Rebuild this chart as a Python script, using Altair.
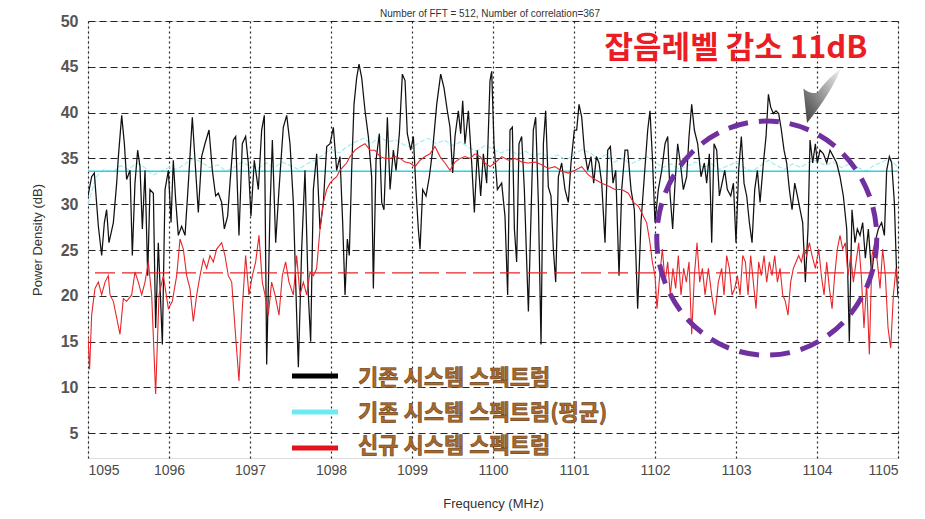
import altair as alt
import pandas as pd

# ---------------- data ----------------
black_x = [1095.000, 1095.045, 1095.078, 1095.128, 1095.169, 1095.202, 1095.230, 1095.259, 1095.313, 1095.354,
           1095.375, 1095.416, 1095.449, 1095.477, 1095.519, 1095.547, 1095.580, 1095.613, 1095.642, 1095.671,
           1095.704, 1095.737, 1095.765, 1095.807, 1095.835, 1095.868, 1095.918, 1095.951, 1095.992, 1096.025,
           1096.053, 1096.082, 1096.115, 1096.156, 1096.198, 1096.239, 1096.288, 1096.321, 1096.362, 1096.403,
           1096.444, 1096.494, 1096.535, 1096.576, 1096.609, 1096.650, 1096.683, 1096.724, 1096.753, 1096.794,
           1096.823, 1096.864, 1096.905, 1096.946, 1096.979, 1097.012, 1097.053, 1097.103, 1097.144, 1097.177,
           1097.206, 1097.247, 1097.276, 1097.317, 1097.358, 1097.411, 1097.453, 1097.494, 1097.535,
           1097.576, 1097.597, 1097.638, 1097.679, 1097.720, 1097.749, 1097.782, 1097.823, 1097.864, 1097.906,
           1097.947, 1097.988, 1098.029, 1098.070, 1098.111, 1098.144, 1098.173, 1098.202, 1098.226, 1098.255,
           1098.284, 1098.317, 1098.346, 1098.379, 1098.420, 1098.461, 1098.502, 1098.523, 1098.556, 1098.597,
           1098.626, 1098.654, 1098.696, 1098.729, 1098.770, 1098.803, 1098.844, 1098.881, 1098.914, 1098.942,
           1098.984, 1099.017, 1099.049, 1099.078, 1099.099, 1099.132, 1099.173, 1099.214, 1099.255, 1099.305,
           1099.354, 1099.395, 1099.436, 1099.469, 1099.502, 1099.531, 1099.572, 1099.601, 1099.626, 1099.654,
           1099.696, 1099.737, 1099.770, 1099.807, 1099.848, 1099.881, 1099.922, 1099.963, 1099.984, 1100.012,
           1100.054, 1100.107, 1100.148, 1100.181, 1100.210, 1100.239, 1100.264, 1100.292, 1100.321, 1100.354,
           1100.387, 1100.416, 1100.437, 1100.469, 1100.498, 1100.527, 1100.560, 1100.593, 1100.622, 1100.650,
           1100.683, 1100.716, 1100.745, 1100.774, 1100.807, 1100.848, 1100.889, 1100.930, 1100.963, 1101.004,
           1101.033, 1101.062, 1101.095, 1101.128, 1101.169, 1101.210, 1101.243, 1101.276, 1101.309, 1101.342,
           1101.383, 1101.416, 1101.449, 1101.482, 1101.515, 1101.556, 1101.589, 1101.630, 1101.663, 1101.704,
           1101.745, 1101.786, 1101.827, 1101.868, 1101.910, 1101.938, 1101.967, 1102.000, 1102.041, 1102.083,
           1102.124, 1102.157, 1102.185, 1102.218, 1102.247, 1102.280, 1102.313, 1102.350, 1102.391, 1102.420,
           1102.453, 1102.486, 1102.527, 1102.568, 1102.609, 1102.638, 1102.671, 1102.700, 1102.729, 1102.762,
           1102.795, 1102.828, 1102.861, 1102.893, 1102.935, 1102.968, 1103.000, 1103.033, 1103.066, 1103.099,
           1103.132, 1103.165, 1103.198, 1103.231, 1103.264, 1103.297, 1103.338, 1103.371, 1103.400, 1103.428,
           1103.461, 1103.494, 1103.527, 1103.560, 1103.593, 1103.626, 1103.659, 1103.692, 1103.725, 1103.758,
           1103.791, 1103.823, 1103.856, 1103.889, 1103.914, 1103.947, 1103.980, 1104.004, 1104.037, 1104.079,
           1104.120, 1104.161, 1104.202, 1104.243, 1104.284, 1104.325, 1104.367, 1104.399, 1104.432, 1104.469,
           1104.498, 1104.531, 1104.564, 1104.597, 1104.634, 1104.675, 1104.716, 1104.757, 1104.798, 1104.832,
           1104.860, 1104.893, 1104.922, 1104.955, 1104.984, 1105.000]
black_y = [30.9, 33.0, 33.4, 27.6, 24.4, 28.0, 29.4, 25.8, 28.0, 32.3,
           35.2, 39.7, 36.6, 32.7, 33.7, 24.4, 32.3, 35.9, 34.1, 27.3,
           33.7, 22.2, 31.6, 31.2, 16.5, 25.8, 14.7, 31.6, 33.7, 28.0,
           34.8, 30.5, 26.6, 27.6, 26.6, 32.3, 39.5, 34.8, 29.1, 35.2,
           36.6, 38.1, 33.7, 30.9, 31.2, 30.2, 27.3, 28.7, 32.3, 37.0,
           37.4, 26.6, 36.6, 37.4, 34.5, 28.7, 34.8, 31.6, 38.1, 39.7,
           12.5, 29.4, 37.0, 25.8, 31.6, 38.4, 39.7, 36.6, 30.2,
           17.9, 12.2, 25.1, 33.7, 20.1, 15.0, 31.6, 35.5, 27.3, 30.2,
           36.3, 36.6, 38.4, 33.7, 35.2, 28.0, 20.1, 26.2, 24.4, 33.7,
           40.9, 43.8, 45.3, 43.8, 40.2, 37.4, 33.0, 20.8, 34.8, 37.7,
           30.2, 29.4, 39.5, 31.6, 35.9, 33.7, 37.7, 44.2, 43.5, 37.7,
           35.9, 37.4, 31.6, 27.3, 25.1, 31.6, 30.9, 33.0, 35.9, 40.9,
           44.2, 42.7, 40.2, 38.4, 33.4, 37.4, 40.2, 37.7, 41.3, 36.6,
           40.2, 34.5, 29.1, 35.9, 30.9, 35.5, 32.3, 43.5, 44.5, 36.6,
           31.6, 32.3, 28.7, 20.1, 38.1, 38.4, 27.3, 23.7, 36.6, 37.4,
           31.6, 23.7, 18.3, 28.7, 38.1, 39.5, 30.2, 14.7, 36.6, 40.2,
           31.9, 30.9, 25.1, 21.5, 33.0, 34.5, 31.6, 30.2, 34.5, 38.1,
           38.1, 40.9, 39.5, 35.9, 33.7, 35.2, 32.3, 35.2, 34.5, 32.3,
           25.8, 35.9, 36.3, 32.3, 33.7, 22.2, 31.6, 35.9, 35.9, 31.6,
           29.4, 18.6, 28.0, 33.0, 38.1, 40.2, 35.2, 28.0, 31.6, 33.7,
           36.6, 37.4, 31.2, 27.3, 32.3, 36.6, 34.5, 31.6, 33.0, 37.4,
           40.9, 38.1, 36.6, 33.0, 34.5, 32.3, 35.5, 25.8, 36.6, 35.9,
           30.9, 32.3, 33.7, 31.6, 30.9, 32.3, 25.8, 33.7, 37.4, 32.3,
           30.9, 28.0, 25.8, 31.6, 33.7, 30.2, 34.5, 37.4, 42.0, 40.6,
           39.9, 40.2, 39.9, 38.1, 35.9, 34.5, 31.6, 29.4, 32.3, 30.9,
           29.4, 28.0, 21.5, 27.3, 37.0, 34.5, 36.6, 34.5, 35.9, 35.5,
           34.5, 35.9, 35.2, 34.5, 33.0, 30.9, 27.3, 15.0, 29.4, 25.8,
           27.3, 26.6, 28.0, 24.1, 27.3, 22.2, 25.8, 27.3, 28.0, 26.6,
           33.7, 35.2, 34.5, 30.2, 22.2, 20.0]

red_x = [1095.000, 1095.020, 1095.045, 1095.086, 1095.128, 1095.169, 1095.210, 1095.251, 1095.272, 1095.313,
         1095.354, 1095.395, 1095.436, 1095.477, 1095.539, 1095.580, 1095.621, 1095.663, 1095.704, 1095.745,
         1095.786, 1095.835, 1095.877, 1095.930, 1095.992, 1096.041, 1096.095, 1096.136, 1096.177, 1096.218,
         1096.259, 1096.300, 1096.342, 1096.383, 1096.424, 1096.465, 1096.506, 1096.547, 1096.588, 1096.650,
         1096.691, 1096.732, 1096.774, 1096.815, 1096.864, 1096.905, 1096.946, 1096.987, 1097.029, 1097.070,
         1097.111, 1097.152, 1097.185, 1097.226, 1097.267, 1097.309, 1097.358, 1097.399, 1097.440, 1097.481,
         1097.535, 1097.576, 1097.617, 1097.659, 1097.700, 1097.741, 1097.782, 1097.823, 1097.864, 1097.906,
         1097.947, 1097.988, 1098.029, 1098.070, 1098.111, 1098.152, 1098.193, 1098.235, 1098.296, 1098.358,
         1098.420, 1098.482, 1098.543, 1098.605, 1098.667, 1098.729, 1098.790, 1098.852, 1098.914, 1098.975,
         1099.037, 1099.099, 1099.161, 1099.222, 1099.284, 1099.346, 1099.407, 1099.469, 1099.531, 1099.593,
         1099.654, 1099.716, 1099.778, 1099.840, 1099.901, 1099.963, 1100.025, 1100.107, 1100.190, 1100.272,
         1100.354, 1100.437, 1100.519, 1100.601, 1100.683, 1100.766, 1100.848, 1100.930, 1101.013, 1101.095,
         1101.177, 1101.260, 1101.342, 1101.424, 1101.506, 1101.589, 1101.671, 1101.733, 1101.794, 1101.856,
         1101.897, 1101.938, 1101.967, 1102.000, 1102.025, 1102.058, 1102.091, 1102.124, 1102.157, 1102.189,
         1102.222, 1102.255, 1102.288, 1102.321, 1102.354, 1102.387, 1102.420, 1102.453, 1102.486, 1102.519,
         1102.552, 1102.585, 1102.618, 1102.659, 1102.700, 1102.741, 1102.782, 1102.823, 1102.852, 1102.885,
         1102.918, 1102.951, 1102.984, 1103.017, 1103.050, 1103.083, 1103.116, 1103.149, 1103.181, 1103.214,
         1103.247, 1103.280, 1103.313, 1103.346, 1103.379, 1103.412, 1103.445, 1103.478, 1103.511, 1103.544,
         1103.577, 1103.609, 1103.642, 1103.675, 1103.708, 1103.741, 1103.774, 1103.807, 1103.840, 1103.873,
         1103.906, 1103.939, 1103.980, 1104.021, 1104.054, 1104.087, 1104.120, 1104.153, 1104.186, 1104.218,
         1104.251, 1104.284, 1104.317, 1104.350, 1104.383, 1104.416, 1104.449, 1104.482, 1104.515, 1104.547,
         1104.580, 1104.613, 1104.646, 1104.679, 1104.712, 1104.745, 1104.778, 1104.811, 1104.844, 1104.877,
         1104.910, 1104.943, 1104.975, 1105.000]
red_y = [15.5, 12.0, 17.9, 20.8, 21.5, 20.1, 21.5, 22.2, 20.1, 19.4,
         17.6, 15.8, 19.7, 19.4, 20.1, 22.6, 21.5, 20.1, 21.5, 23.7,
         20.1, 9.3, 20.1, 22.2, 18.6, 19.4, 22.2, 26.2, 25.1, 22.2,
         20.8, 17.2, 20.1, 22.2, 24.0, 23.0, 24.4, 23.7, 25.1, 25.8,
         24.4, 22.2, 21.5, 16.5, 10.7, 18.6, 24.4, 20.1, 22.2, 23.7,
         26.6, 21.5, 20.1, 17.9, 21.5, 20.1, 17.9, 22.2, 23.7, 21.5,
         20.1, 24.4, 20.1, 21.5, 20.1, 22.6, 22.2, 23.0, 27.3, 30.2,
         31.6, 32.3, 32.7, 33.0, 33.7, 34.1, 34.5, 35.2, 35.9, 36.3,
         36.6, 35.9, 35.9, 35.2, 35.0, 35.0, 35.2, 35.0, 34.6, 34.5,
         34.1, 34.8, 35.2, 35.5, 36.3, 35.2, 34.5, 33.7, 34.6, 35.0,
         35.2, 35.0, 35.5, 35.2, 34.5, 34.1, 34.5, 35.2, 34.8, 35.0,
         34.6, 34.5, 34.6, 34.3, 33.9, 34.1, 33.6, 33.4, 33.7, 34.1,
         33.2, 32.7, 32.3, 32.0, 31.6, 31.6, 31.2, 30.2, 29.8, 28.7,
         28.0, 25.8, 23.7, 22.2, 18.6, 22.2, 25.1, 21.5, 23.7, 20.1,
         23.0, 20.8, 24.4, 20.1, 23.0, 21.5, 23.7, 15.8, 22.2, 25.8,
         21.5, 23.0, 20.1, 23.0, 20.1, 17.9, 21.5, 23.0, 20.1, 24.4,
         23.0, 20.1, 20.8, 22.2, 20.1, 24.4, 23.7, 20.1, 24.4, 21.5,
         18.6, 23.7, 22.2, 24.4, 21.5, 23.7, 22.2, 24.4, 21.5, 23.0,
         20.1, 19.4, 17.9, 21.5, 23.0, 23.7, 24.4, 23.7, 25.1, 24.4,
         25.8, 24.4, 23.0, 25.1, 22.2, 20.1, 23.7, 20.8, 18.6, 22.2,
         25.1, 26.6, 25.1, 25.8, 22.2, 24.4, 21.5, 23.7, 25.8, 22.2,
         16.5, 21.5, 13.6, 24.4, 25.8, 23.7, 20.8, 25.1, 22.2, 16.5,
         14.3, 20.1, 23.0, 20.8]

cyan_x = [1095.00, 1095.05, 1095.10, 1095.20, 1095.30, 1095.40, 1095.50, 1095.60, 1095.70, 1095.80, 1095.90,
          1096.00, 1096.10, 1096.20, 1096.30, 1096.40, 1096.50, 1096.60, 1096.70, 1096.80, 1096.90,
          1097.00, 1097.10, 1097.20, 1097.30, 1097.40, 1097.50, 1097.60, 1097.70, 1097.80, 1097.90,
          1098.00, 1098.10, 1098.20, 1098.30, 1098.40, 1098.50, 1098.60, 1098.70, 1098.80, 1098.90,
          1099.00, 1099.10, 1099.20, 1099.30, 1099.40, 1099.50, 1099.60, 1099.70, 1099.80, 1099.90,
          1100.00, 1100.10, 1100.20, 1100.30, 1100.40, 1100.50, 1100.60, 1100.70, 1100.80, 1100.90,
          1101.00, 1101.10, 1101.20, 1101.30, 1101.40, 1101.50, 1101.60, 1101.70, 1101.80, 1101.90,
          1102.00, 1102.10, 1102.20, 1102.30, 1102.40, 1102.50, 1102.60, 1102.70, 1102.80, 1102.90,
          1103.00, 1103.10, 1103.20, 1103.30, 1103.40, 1103.50, 1103.60, 1103.70, 1103.80, 1103.90,
          1104.00, 1104.10, 1104.20, 1104.30, 1104.40, 1104.50, 1104.60, 1104.70, 1104.80, 1104.90, 1105.00]
cyan_y = [30.0, 31.5, 33.0, 33.8, 33.5, 34.2, 33.8, 34.5, 34.0, 33.2, 33.6,
          34.0, 33.8, 34.4, 35.0, 34.6, 34.0, 34.3, 33.6, 34.0, 34.6,
          34.2, 33.9, 34.5, 34.0, 34.6, 34.2, 33.8, 34.4, 34.8, 35.4,
          36.0, 35.6, 36.3, 36.8, 37.2, 36.6, 37.4, 36.8, 37.0, 36.5,
          36.2, 36.8, 37.2, 36.6, 37.0, 36.4, 36.8, 36.2, 35.8, 36.4,
          36.0, 35.6, 36.0, 35.4, 35.8, 35.2, 35.6, 35.0, 35.4, 34.8,
          35.4, 36.0, 35.6, 35.0, 35.4, 34.6, 35.0, 34.4, 34.8, 35.2,
          34.6, 34.0, 34.4, 33.8, 34.2, 34.6, 34.0, 34.4, 33.8, 34.2,
          34.6, 34.0, 33.6, 34.2, 34.8, 34.2, 33.8, 34.4, 34.0, 34.6,
          34.8, 34.2, 34.6, 34.0, 34.4, 34.0, 33.6, 34.2, 34.6, 35.0, 34.0]

cyan_mean = [33.6]   # solid cyan level (dB)
red_mean = [22.5]    # dashed red level (dB)

x_ticks = [1095, 1096, 1097, 1098, 1099, 1100, 1101, 1102, 1103, 1104, 1105]
y_ticks = [5, 10, 15, 20, 25, 30, 35, 40, 45, 50]

legend_labels = ["기존 시스템 스펙트럼", "기존 시스템 스펙트럼(평균)", "신규 시스템 스펙트럼"]
legend_colors = ["#000000", "#6cecf2", "#e3121b"]
legend_py = [355, 391, 427]
legend_ty = [357, 392, 425]

title_text = "Number of FFT = 512, Number of correlation=367"
note_text = "잡음레벨 감소 11dB"
ellipse_center = [1103.38, 26.3]

# ---------------- chart ----------------
W, H = 810, 437
xs = alt.Scale(domain=[1095, 1105], nice=False, zero=False)
ys = alt.Scale(domain=[2.3, 50], nice=False, zero=False)

X = alt.X("f:Q", scale=xs, axis=alt.Axis(
    values=x_ticks, title="Frequency (MHz)", format="d", grid=True,
    gridDash=[2, 3], gridColor="#000", gridOpacity=0.85, gridWidth=1.2,
    ticks=False, labelPadding=5, titlePadding=20, domain=False,
    labelFontSize=14, labelColor="#4a4a4a", titleFontSize=13, titleColor="#333",
    titleFontWeight="normal", labelFont="Liberation Sans", titleFont="Liberation Sans"))
Y = alt.Y("p:Q", scale=ys, axis=alt.Axis(
    values=y_ticks, title="Power Density (dB)", grid=True,
    gridDash=[7, 4], gridColor="#000", gridOpacity=0.85, gridWidth=1,
    ticks=False, labelPadding=10, titlePadding=16, domain=False,
    labelFontSize=16, labelFontWeight="bold", labelColor="#555",
    titleFontSize=13, titleColor="#333", titleFontWeight="normal",
    labelFont="Liberation Sans", titleFont="Liberation Sans"))

black_df = pd.DataFrame({"f": black_x, "p": black_y})
red_df = pd.DataFrame({"f": red_x, "p": red_y})
cyan_df = pd.DataFrame({"f": cyan_x, "p": cyan_y})

cyan_avg = alt.Chart(cyan_df).mark_line(color="#9eecf0", strokeWidth=1.1, strokeDash=[5, 2],
                                        clip=True).encode(x=X, y=Y)
cyan_lvl = alt.Chart(pd.DataFrame({"p": cyan_mean})).mark_rule(color="#2ad3de", strokeWidth=1.5).encode(y=Y)
black_line = alt.Chart(black_df).mark_line(color="#111", strokeWidth=1.25, clip=True).encode(x=X, y=Y)
red_line = alt.Chart(red_df).mark_line(color="#e8262a", strokeWidth=1.1, clip=True).encode(x=X, y=Y)
red_lvl = alt.Chart(pd.DataFrame({"p": red_mean})).mark_rule(
    color="#e8262a", strokeWidth=1.3, strokeDash=[20, 7]).encode(y=Y)

leg_df = pd.DataFrame({"label": legend_labels, "c": legend_colors, "py": legend_py, "ty": legend_ty})
leg_lines = alt.Chart(leg_df).mark_rule(strokeWidth=5).encode(
    x=alt.value(204), x2=alt.value(250),
    y=alt.Y("py:Q", scale=None), color=alt.Color("c:N", scale=None))
leg_text = alt.Chart(leg_df).mark_text(
    align="left", baseline="middle", font="Noto Sans CJK KR", fontWeight="bold",
    fontSize=22, fill="#a86a2c", stroke="#6b4018", strokeWidth=0.6).encode(
    x=alt.value(270), y=alt.Y("ty:Q", scale=None), text="label:N")

ell_df = pd.DataFrame({"f": [ellipse_center[0]], "p": [ellipse_center[1]]})
ellipse_path = ("M 1 0 C 1 0.5876 0.5523 1.064 0 1.064 C -0.5523 1.064 -1 0.5876 -1 0 "
                "C -1 -0.5876 -0.5523 -1.064 0 -1.064 C 0.5523 -1.064 1 -0.5876 1 0 Z")
ellipse = alt.Chart(ell_df).mark_point(
    shape=ellipse_path, size=48400, filled=False, stroke="#7030a0", strokeWidth=5,
    strokeDash=[20, 11], opacity=1).encode(x=X, y=Y)

arrow_path = ("M -0.5 0.9 L -0.62 -0.25 Q -0.4 -0.05 -0.15 -0.12 "
              "Q 0.15 -0.55 0.63 -0.92 Q 0.3 -0.1 -0.5 0.9 Z")
arrow = alt.Chart(pd.DataFrame({"k": [0]})).mark_point(
    shape=arrow_path, size=3600, filled=True, opacity=1,
    fill=alt.Gradient(gradient="linear",
                      stops=[alt.GradientStop(color="#3a3a3a", offset=0),
                             alt.GradientStop(color="#f4f4f4", offset=1)],
                      x1=0, y1=1, x2=1, y2=0)).encode(x=alt.value(734), y=alt.value(75))

note = alt.Chart(pd.DataFrame({"t": [note_text]})).mark_text(
    align="center", baseline="middle", font="Noto Sans CJK KR", fontWeight="bold",
    fontSize=31, fill="#ec1c24").encode(x=alt.value(648), y=alt.value(28), text="t:N")

title = alt.Chart(pd.DataFrame({"t": [title_text]})).mark_text(
    align="center", baseline="bottom", font="Liberation Sans", fontSize=10, color="#333").encode(
    x=alt.value(402), y=alt.value(-2), text="t:N")

chart = alt.layer(
    cyan_avg, cyan_lvl, black_line, red_line, red_lvl,
    leg_lines, leg_text, ellipse, arrow, note, title
).properties(
    width=W, height=H,
    autosize=alt.AutoSizeParams(type="none"),
    padding={"left": 80, "top": 13, "right": 19, "bottom": 53},
).configure_view(stroke="#000", strokeWidth=1.2).configure(background="white")

chart.save("out.html", embed_options={"renderer": "svg", "actions": False})
